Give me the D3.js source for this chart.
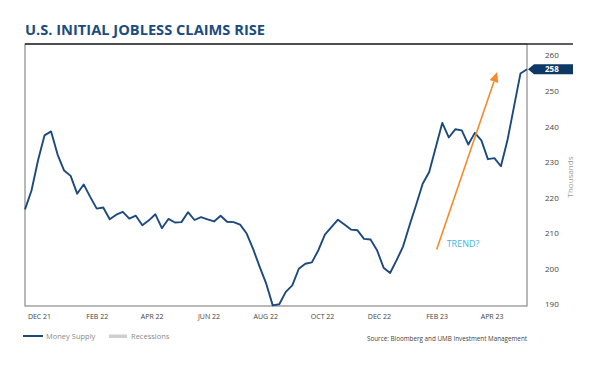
<!DOCTYPE html>
<html>
<head>
<meta charset="utf-8">
<script src="https://cdn.jsdelivr.net/npm/d3@7/dist/d3.min.js"></script>
<style>
  html, body { margin: 0; padding: 0; background: #fff; }
  svg { display: block; }
  text { font-family: "Open Sans", "DejaVu Sans", sans-serif; }
</style>
</head>
<body>
<svg id="chart" width="600" height="367"></svg>
<script>
// ---------------- data ----------------
const title = "U.S. INITIAL JOBLESS CLAIMS RISE";
const startWeek = "2021-11-16";           // first weekly observation
const claims = [                           // thousands, weekly
  216.7, 222.0, 230.5, 237.5, 238.6, 232.1, 227.6, 226.1, 221.1, 223.7,
  220.2, 216.9, 217.2, 213.9, 215.2, 216.0, 214.1, 214.9, 212.2, 213.6,
  215.3, 211.4, 214.0, 213.0, 213.1, 215.9, 213.7, 214.5, 213.9, 213.3,
  214.9, 213.2, 213.1, 212.4, 209.9, 205.5, 200.5, 195.8, 189.7, 190.0,
  193.5, 195.3, 200.0, 201.4, 201.8, 205.2, 209.6, 211.7, 213.8, 212.4,
  211.0, 210.8, 208.4, 208.2, 205.2, 200.3, 198.8, 202.4, 206.3, 212.3,
  218.0, 223.9, 227.2, 234.1, 241.0, 236.9, 239.2, 238.9, 234.9, 238.2,
  236.1, 230.8, 231.1, 228.8, 236.1, 245.5, 254.9, 256.1
];
const lastLabel = "258";
const yTicks = [190, 200, 210, 220, 230, 240, 250, 260];
const xTickMonths = ["2021-12-01","2022-02-01","2022-04-01","2022-06-01","2022-08-01",
                     "2022-10-01","2022-12-01","2023-02-01","2023-04-01"];
const xTickLabels = ["DEC 21","FEB 22","APR 22","JUN 22","AUG 22","OCT 22","DEC 22","FEB 23","APR 23"];
const trendArrow = [{ date: "2023-02-01", value: 205.4 }, { date: "2023-04-07", value: 255.3 }];
const trendLabel = "TREND?";
const legendItems = ["Money Supply", "Recessions"];
const sourceText = "Source: Bloomberg and UMB Investment Management";
const yTitle = "Thousands";

// ---------------- layout ----------------
const svg = d3.select("#chart");
const L = 25, R = 527, T = 44, B = 306;
const parse = d3.utcParse("%Y-%m-%d");
const t0 = parse(startWeek);
const series = claims.map((v, i) => ({ date: d3.utcDay.offset(t0, 7 * i), value: v }));

const x = d3.scaleUtc()
  .domain(d3.extent(series, d => d.date))
  .range([L, R]);
const y = d3.scaleLinear().domain([190, 260]).range([304.3, 55.3]);

const navy = "#1d4a7c";

// title
svg.append("text")
  .attr("x", 25).attr("y", 35)
  .attr("font-size", 14).attr("font-weight", 700)
  .attr("fill", "#1c4c7e")
  .attr("textLength", 240).attr("lengthAdjust", "spacingAndGlyphs")
  .text(title);

// frame
svg.append("rect")
  .attr("x", L).attr("y", T).attr("width", R - L).attr("height", B - T)
  .attr("fill", "none").attr("stroke", "#8a8a8a").attr("stroke-width", 1.2);
svg.append("line")
  .attr("x1", L).attr("x2", 573).attr("y1", T).attr("y2", T)
  .attr("stroke", "#2a2a2a").attr("stroke-width", 1.6);

// y axis (right)
const yAxis = svg.append("g")
  .attr("transform", `translate(${R},0)`)
  .call(d3.axisRight(y).tickValues(yTicks).tickSize(0).tickPadding(18));
yAxis.select(".domain").remove();
yAxis.selectAll("text")
  .attr("font-size", 8).attr("fill", "#444")
  .style("font-family", "'Open Sans', sans-serif");

svg.append("text")
  .attr("transform", `translate(573,${177}) rotate(-90)`)
  .attr("text-anchor", "middle")
  .attr("font-size", 8).attr("fill", "#9a9a9a")
  .text(yTitle);

// x axis
const tickDates = xTickMonths.map(parse);
const xAxis = svg.append("g")
  .attr("transform", `translate(0,${B})`)
  .call(d3.axisBottom(x).tickValues(tickDates).tickSize(0).tickPadding(8)
    .tickFormat((d, i) => xTickLabels[i]));
xAxis.select(".domain").remove();
xAxis.selectAll("text")
  .attr("font-size", 7).attr("fill", "#444")
  .style("font-family", "'Open Sans', sans-serif");

// line
const line = d3.line().x(d => x(d.date)).y(d => y(d.value));
svg.append("path")
  .datum(series)
  .attr("d", line)
  .attr("fill", "none")
  .attr("stroke", navy)
  .attr("stroke-width", 1.9)
  .attr("stroke-linejoin", "round");

// last value tag
const last = series[series.length - 1];
const ly = y(last.value);
const tipX = x(last.date) + 1;
svg.append("path")
  .attr("d", `M${tipX},${ly} L${tipX + 6},${ly - 5} L573,${ly - 5} L573,${ly + 5} L${tipX + 6},${ly + 5} Z`)
  .attr("fill", "#0e3866");
svg.append("text")
  .attr("x", 545).attr("y", ly + 3)
  .attr("font-size", 8).attr("font-weight", 700).attr("fill", "#fff")
  .text(lastLabel);

// trend arrow
const a0 = trendArrow[0], a1 = trendArrow[1];
const ax0 = x(parse(a0.date)), ay0 = y(a0.value);
const ax1 = x(parse(a1.date)), ay1 = y(a1.value);
const ang = Math.atan2(ay1 - ay0, ax1 - ax0);
const hl = 10, hw = 4.5;
const bx = ax1 - hl * Math.cos(ang), by = ay1 - hl * Math.sin(ang);
svg.append("line")
  .attr("x1", ax0).attr("y1", ay0).attr("x2", bx).attr("y2", by)
  .attr("stroke", "#f58a2a").attr("stroke-width", 1.6);
svg.append("path")
  .attr("d", `M${ax1},${ay1} L${bx + hw * Math.sin(ang)},${by - hw * Math.cos(ang)} L${bx - hw * Math.sin(ang)},${by + hw * Math.cos(ang)} Z`)
  .attr("fill", "#f58a2a");

svg.append("text")
  .attr("x", ax0 + 10).attr("y", ay0 - 3)
  .attr("font-size", 9).attr("fill", "#3db7e8")
  .text(trendLabel);

// legend
const lg = svg.append("g");
lg.append("line").attr("x1", 23).attr("x2", 43).attr("y1", 336).attr("y2", 336)
  .attr("stroke", navy).attr("stroke-width", 2);
lg.append("text").attr("x", 46).attr("y", 339)
  .attr("font-size", 7.5).attr("fill", "#8a8a8a").text(legendItems[0]);
lg.append("rect").attr("x", 109).attr("y", 334.5).attr("width", 18).attr("height", 3.5)
  .attr("fill", "#cfcfcf");
lg.append("text").attr("x", 131).attr("y", 339)
  .attr("font-size", 7.5).attr("fill", "#8a8a8a").text(legendItems[1]);

// source
svg.append("text")
  .attr("x", 527).attr("y", 341)
  .attr("text-anchor", "end")
  .attr("font-size", 6.3).attr("fill", "#444")
  .text(sourceText);
</script>
</body>
</html>
